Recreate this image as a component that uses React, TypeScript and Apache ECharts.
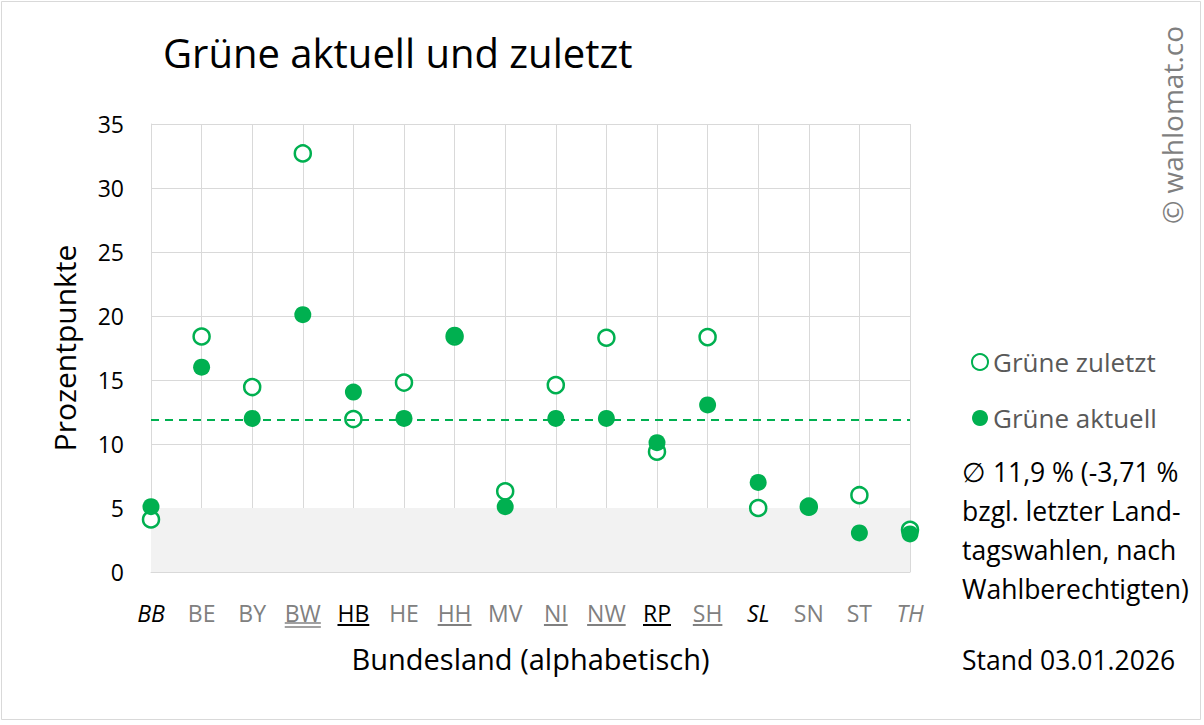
import React, { useEffect, useRef } from "react";
import * as echarts from "echarts";

const categories = ["BB", "BE", "BY", "BW", "HB", "HE", "HH", "MV", "NI", "NW", "RP", "SH", "SL", "SN", "ST", "TH"];
const labelStyles = ["ib", "g", "g", "g", "b", "g", "g", "g", "g", "g", "b", "g", "ib", "g", "g", "ig"];
// 0 none, 1 single, 2 double
const underlines = [0, 0, 0, 2, 1, 0, 1, 0, 1, 1, 1, 1, 0, 0, 0, 0];
const zuletzt = [4.1, 18.4, 14.45, 32.7, 11.95, 14.8, 18.4, 6.3, 14.6, 18.3, 9.4, 18.35, 5.0, 5.1, 6.0, 3.3];
const aktuell = [5.1, 16.0, 12.0, 20.1, 14.06, 12.0, 18.5, 5.1, 12.0, 12.0, 10.1, 13.05, 7.0, 5.1, 3.05, 2.97];
const average = 11.9;
const yTicks = { min: 0, max: 35, interval: 5 };
const noteLines = ["∅ 11,9 % (-3,71 %", "bzgl. letzter Land-", "tagswahlen, nach", "Wahlberechtigten)"];

const FONT = "'Open Sans', Lato, sans-serif";
const GREEN = "#00b050";
const GRAY_TXT = "#808080";
const LABEL_SIZE = 23;

export default function App() {
  const ref = useRef<HTMLDivElement>(null);
  useEffect(() => {
    document.body.style.margin = "0";
    const chart = echarts.init(ref.current!, null, { renderer: "svg" });
    const baseGraphic: any[] = [
      {
        type: "rect", id: "border", shape: { x: 1.5, y: 1.5, width: 1199, height: 718 },
        style: { fill: "none", stroke: "#d9d9d9", lineWidth: 1 }, silent: true,
      },
      {
        type: "text", id: "wm", x: 1172, y: 125, rotation: Math.PI / 2,
        style: { text: "© wahlomat.co", font: `28px ${FONT}`, fill: "#7f7f7f", align: "center", verticalAlign: "middle" },
      },
      ...noteLines.map((t, i) => ({
        type: "text", id: "note" + i, x: 962, y: 472 + i * 39,
        style: { text: t, font: `26.5px ${FONT}`, fill: "#000", align: "left", verticalAlign: "middle" },
      })),
      {
        type: "text", id: "stand", x: 962, y: 660,
        style: { text: "Stand 03.01.2026", font: `26.5px ${FONT}`, fill: "#000", align: "left", verticalAlign: "middle" },
      },
    ];
    const option: any = {
      animation: false,
      backgroundColor: "#fff",
      title: {
        text: "Grüne aktuell und zuletzt",
        left: 158, top: 27,
        textStyle: { fontFamily: FONT, fontSize: 40, fontWeight: "normal", color: "#000" },
      },
      legend: {
        data: ["Grüne zuletzt", "Grüne aktuell"],
        orient: "vertical", left: 971, top: 349, itemGap: 30, padding: 0,
        itemWidth: 16, itemHeight: 16, icon: "circle",
        textStyle: { fontFamily: FONT, fontSize: 26, color: "#595959" },
      },
      grid: { left: 151, right: 294, top: 124, bottom: 153, containLabel: false },
      xAxis: {
        type: "category", data: categories, boundaryGap: false,
        name: "Bundesland (alphabetisch)", nameLocation: "middle", nameGap: 72,
        nameTextStyle: { fontFamily: FONT, fontSize: 29, color: "#000" },
        axisLine: { lineStyle: { color: "#d9d9d9", width: 1 } },
        axisTick: { show: false },
        splitLine: { show: true, lineStyle: { color: "#d9d9d9", width: 1 } },
        axisLabel: {
          margin: 29,
          formatter: (v: string, i: number) => `{${labelStyles[i]}|${v}}`,
          rich: {
            ib: { fontFamily: FONT, fontSize: LABEL_SIZE, color: "#000", fontStyle: "italic" },
            ig: { fontFamily: FONT, fontSize: LABEL_SIZE, color: GRAY_TXT, fontStyle: "italic" },
            g: { fontFamily: FONT, fontSize: LABEL_SIZE, color: GRAY_TXT },
            b: { fontFamily: FONT, fontSize: LABEL_SIZE, color: "#000" },
          },
        },
      },
      yAxis: {
        type: "value", min: yTicks.min, max: yTicks.max, interval: yTicks.interval,
        name: "Prozentpunkte", nameLocation: "middle", nameGap: 72, nameRotate: 90,
        nameTextStyle: { fontFamily: FONT, fontSize: 30, color: "#000" },
        axisLine: { show: true, lineStyle: { color: "#d9d9d9" } },
        axisTick: { show: false },
        axisLabel: { margin: 27, fontFamily: FONT, fontSize: LABEL_SIZE, color: "#000" },
        splitLine: { show: true, lineStyle: { color: "#d9d9d9", width: 1 } },
      },
      series: [
        {
          name: "Grüne zuletzt", type: "scatter", data: zuletzt, symbol: "circle", symbolSize: 16,
          itemStyle: { color: "#fff", borderColor: GREEN, borderWidth: 2.5, opacity: 1 },
          z: 3,
          markArea: {
            silent: true,
            itemStyle: { color: "#f2f2f2" },
            data: [[{ yAxis: 0 }, { yAxis: 5 }]],
          },
          markLine: {
            silent: true, symbol: "none", label: { show: false },
            lineStyle: { color: GREEN, type: [8, 6], width: 2 },
            data: [{ yAxis: average }],
          },
        },
        {
          name: "Grüne aktuell", type: "scatter", data: aktuell, symbol: "circle", symbolSize: 17,
          itemStyle: { color: GREEN, opacity: 1 }, z: 4,
        },
      ],
      graphic: baseGraphic,
    };
    chart.setOption(option);

    // underlines for labels, positioned via the axis scale
    const canvas = document.createElement("canvas");
    const ctx = canvas.getContext("2d")!;
    const lines: any[] = [];
    categories.forEach((c, i) => {
      if (!underlines[i]) return;
      const x = chart.convertToPixel({ xAxisIndex: 0 }, c) as number;
      const y0 = chart.convertToPixel({ yAxisIndex: 0 }, 0) as number;
      ctx.font = `${labelStyles[i].startsWith("i") ? "italic " : ""}${LABEL_SIZE}px ${FONT}`;
      const w = ctx.measureText(c).width;
      const color = labelStyles[i] === "b" ? "#000" : GRAY_TXT;
      const ys = underlines[i] === 2 ? [y0 + 51, y0 + 55] : [y0 + 53];
      ys.forEach((yy, k) => {
        lines.push({
          type: "line", id: `ul${i}_${k}`, silent: true,
          shape: { x1: x - w / 2, y1: yy, x2: x + w / 2, y2: yy },
          style: { stroke: color, lineWidth: underlines[i] === 2 ? 1.3 : 2 },
        });
      });
    });
    chart.setOption({ graphic: [...baseGraphic, ...lines] });

    return () => chart.dispose();
  }, []);
  return <div ref={ref} style={{ width: 1204, height: 725 }} />;
}
